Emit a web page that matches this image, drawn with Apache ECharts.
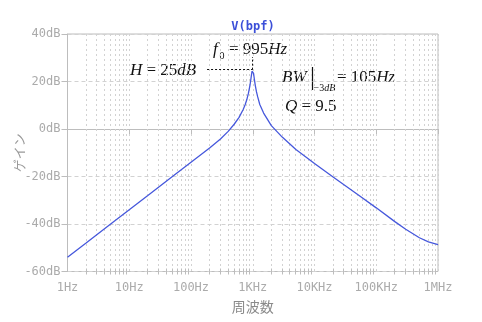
<!DOCTYPE html>
<html>
<head>
<meta charset="utf-8">
<script src="https://cdn.jsdelivr.net/npm/echarts@6/dist/echarts.min.js"></script>
<style>
  html, body { margin: 0; padding: 0; background: #fff; }
  #chart { width: 482px; height: 322px; }
</style>
</head>
<body>
<div id="chart"></div>
<script>
// Band-pass response V(bpf): frequency (Hz) and gain (dB)
const freqHz = [
  1, 2, 5, 10, 20, 50, 100, 200, 300, 400, 500, 600, 700, 750, 800, 850, 900, 920, 950, 975,
  980, 990, 995, 1000, 1010, 1020, 1030, 1050, 1070, 1100, 1150, 1200, 1300, 1500, 2000, 3000,
  5000, 10000, 20000, 50000, 100000, 200000, 300000, 500000, 700000, 1000000
];
const gainDb = [
  -54.0, -48.0, -40.0, -34.0, -28.0, -20.0, -14.0, -8.0, -4.2, -1.0, 2.0, 4.9, 8.2, 10.1, 12.3, 15.0, 18.3, 19.9, 22.5, 24.4,
  24.6, 25.0, 25.0, 25.0, 24.7, 24.1, 23.4, 21.9, 20.4, 18.3, 15.6, 13.6, 10.3, 6.7, 1.4, -3.4,
  -8.6, -14.5, -20.2, -27.6, -33.2, -39.0, -42.2, -45.8, -47.5, -48.7
];

// Axis tick labels
const xTickValues = [1, 10, 100, 1000, 10000, 100000, 1000000];
const xTickLabels = ['1Hz', '10Hz', '100Hz', '1KHz', '10KHz', '100KHz', '1MHz'];
const yMin = -60, yMax = 40, yStep = 20;

// Annotated quantities
const f0Hz = 995;
const peakDb = 25;
const bandwidthHz = 105;
const qFactor = 9.5;

// Minor log grid positions (2..9 in every decade)
const minorFreqs = [];
for (let d = 1; d < 1e6; d *= 10) {
  for (let k = 2; k <= 9; k++) minorFreqs.push(k * d);
}

const gridColor = '#d2d2d2';
const axisColor = '#bdbdbd';
const labelColor = '#ababab';
const mono = '"DejaVu Sans Mono", monospace';
const serif = '"Liberation Serif", "Times New Roman", serif';

const chart = echarts.init(document.getElementById('chart'), null, { renderer: 'canvas' });

const crisp = v => Math.round(v - 0.5) + 0.5;
const italic = { fontFamily: serif, fontSize: 17, fontStyle: 'italic', fill: '#111' };

chart.setOption({
  animation: false,
  backgroundColor: '#fff',
  grid: {
    left: 67.5, right: 44, top: 34, bottom: 50.5,
    outerBoundsMode: 'none', containLabel: false,
    show: true, borderColor: axisColor, borderWidth: 1
  },
  xAxis: {
    type: 'log', logBase: 10, min: 1, max: 1000000, splitNumber: 6,
    name: '周波数', nameLocation: 'middle', nameGap: 28, nameMoveOverlap: false,
    nameTextStyle: { fontFamily: '"Noto Sans CJK JP", sans-serif', fontSize: 14, color: '#8a8a8a' },
    axisLine: { lineStyle: { color: axisColor } },
    axisTick: { show: true, length: 5, lineStyle: { color: axisColor } },
    axisLabel: {
      fontFamily: mono, fontSize: 12, color: labelColor, margin: 10,
      formatter: v => {
        const i = xTickValues.indexOf(Math.round(v));
        return i >= 0 ? xTickLabels[i] : '';
      }
    },
    splitLine: { show: true, lineStyle: { color: gridColor, type: [2, 3], width: 1 } },
    minorTick: { show: false },
    minorSplitLine: { show: false }
  },
  yAxis: {
    type: 'value', min: yMin, max: yMax, interval: yStep,
    name: 'ゲイン', nameLocation: 'middle', nameGap: 42, nameMoveOverlap: false,
    nameTextStyle: { fontFamily: '"Noto Sans CJK JP", sans-serif', fontSize: 13, color: '#9a9a9a' },
    axisLine: { show: true, lineStyle: { color: axisColor } },
    axisTick: { show: true, length: 6, lineStyle: { color: axisColor } },
    axisLabel: { fontFamily: mono, fontSize: 12, color: labelColor, margin: 7, formatter: '{value}dB' },
    splitLine: { show: true, lineStyle: { color: gridColor, type: [4, 3], width: 1 } }
  },
  series: [
    {
      // dotted minor grid lines and their axis ticks
      type: 'custom',
      silent: true,
      clip: false,
      z: 1,
      data: minorFreqs.map(f => [f, yMin]),
      encode: { x: 0, y: 1 },
      renderItem: (params, api) => {
        const f = api.value(0);
        const top = api.coord([f, yMax]);
        const bot = api.coord([f, yMin]);
        const x = crisp(top[0]);
        return {
          type: 'group',
          children: [
            { type: 'line', shape: { x1: x, y1: top[1], x2: x, y2: bot[1] },
              style: { stroke: gridColor, lineWidth: 1, lineDash: [2, 3] } },
            { type: 'line', shape: { x1: x, y1: bot[1] - 3, x2: x, y2: bot[1] + 3 },
              style: { stroke: axisColor, lineWidth: 1 } }
          ]
        };
      }
    },
    {
      name: 'V(bpf)',
      type: 'line',
      z: 3,
      showSymbol: false,
      smooth: false,
      lineStyle: { color: '#4658dc', width: 1.3 },
      data: freqHz.map((f, i) => [f, gainDb[i]]),
      markLine: {
        silent: true,
        symbol: 'none',
        label: { show: false },
        lineStyle: { color: '#111', type: [2, 2], width: 1 },
        data: [
          [{ coord: [182, peakDb] }, { coord: [f0Hz, peakDb] }],
          [{ coord: [f0Hz, peakDb] }, { coord: [f0Hz, 30.3] }]
        ]
      }
    }
  ],
  graphic: [
    { type: 'text', x: 253, y: 27, silent: true,
      style: { text: 'V(bpf)', fontFamily: mono, fontSize: 12, fontWeight: 'bold', fill: '#3b4fd8',
               align: 'center', verticalAlign: 'middle' } },
    { type: 'text', x: 130, y: 70.5, silent: true,
      style: { text: '{i|H} = ' + peakDb + '{i|dB}', fontFamily: serif, fontSize: 17, fill: '#111',
               align: 'left', verticalAlign: 'middle', rich: { i: italic } } },
    { type: 'text', x: 213, y: 49.5, silent: true,
      style: { text: 'f', fontFamily: serif, fontSize: 17, fontStyle: 'italic', fill: '#111',
               align: 'left', verticalAlign: 'middle' } },
    { type: 'text', x: 219.5, y: 56.5, silent: true,
      style: { text: '0', fontFamily: serif, fontSize: 10, fill: '#111', align: 'left', verticalAlign: 'middle' } },
    { type: 'text', x: 229, y: 49.5, silent: true,
      style: { text: '= ' + f0Hz + '{i|Hz}', fontFamily: serif, fontSize: 17, fill: '#111',
               align: 'left', verticalAlign: 'middle', rich: { i: italic } } },
    { type: 'text', x: 282, y: 77.5, silent: true,
      style: { text: 'BW', fontFamily: serif, fontSize: 17, fontStyle: 'italic', fill: '#111',
               align: 'left', verticalAlign: 'middle' } },
    { type: 'line', silent: true, shape: { x1: 312.5, y1: 67, x2: 312.5, y2: 90 },
      style: { stroke: '#111', lineWidth: 1.2 } },
    { type: 'text', x: 313.5, y: 88, silent: true,
      style: { text: '−3{i|dB}', fontFamily: serif, fontSize: 10, fill: '#111', align: 'left', verticalAlign: 'middle',
               rich: { i: { fontFamily: serif, fontSize: 10, fontStyle: 'italic', fill: '#111' } } } },
    { type: 'text', x: 337, y: 77.5, silent: true,
      style: { text: '= ' + bandwidthHz + '{i|Hz}', fontFamily: serif, fontSize: 17, fill: '#111',
               align: 'left', verticalAlign: 'middle', rich: { i: italic } } },
    { type: 'text', x: 285, y: 106.5, silent: true,
      style: { text: '{i|Q} = ' + qFactor, fontFamily: serif, fontSize: 17, fill: '#111',
               align: 'left', verticalAlign: 'middle', rich: { i: italic } } }
  ]
});
</script>
</body>
</html>
